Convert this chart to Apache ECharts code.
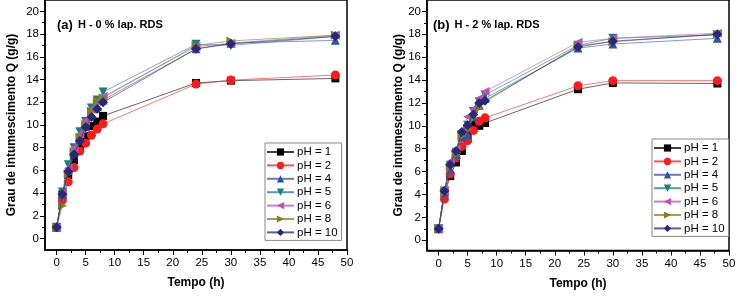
<!DOCTYPE html>
<html><head><meta charset="utf-8">
<script src="https://cdn.jsdelivr.net/npm/echarts@6/dist/echarts.min.js"></script>
<style>html,body{margin:0;padding:0;background:#fff}#c{width:744px;height:298px}</style>
</head><body><div id="c"></div>
<script>
const times = [0, 1, 2, 3, 4, 5, 6, 7, 8, 24, 30, 48];
const seriesNames = ['pH = 1', 'pH = 2', 'pH = 4', 'pH = 5', 'pH = 6', 'pH = 8', 'pH = 10'];
// Panel (a): H - 0 % lap. RDS
const a_pH1  = [1.0, 3.9, 5.6, 6.9, 8.1, 9.0, 9.9, 10.3, 10.8, 13.7, 13.9, 14.1];
const a_pH2  = [1.0, 3.4, 5.0, 6.25, 7.7, 8.4, 9.1, 9.65, 10.1, 13.6, 13.95, 14.4];
const a_pH4  = [1.0, 3.9, 6.1, 7.6, 8.9, 9.9, 10.9, 11.6, 12.2, 16.7, 17.2, 17.45];
const a_pH5  = [1.0, 4.1, 6.5, 8.0, 9.4, 10.3, 11.5, 12.2, 12.9, 17.1, 17.0, 17.8];
const a_pH6  = [1.0, 4.0, 6.2, 8.0, 9.2, 10.4, 11.4, 12.1, 12.5, 16.9, 17.2, 17.9];
const a_pH8  = [1.0, 2.9, 5.7, 7.6, 8.9, 10.0, 11.2, 12.1, 12.4, 17.0, 17.4, 17.9];
const a_pH10 = [1.0, 3.9, 5.9, 7.4, 8.6, 9.8, 10.7, 11.4, 12.0, 16.7, 17.15, 17.8];
// Panel (b): H - 2 % lap. RDS
const b_pH1  = [1.0, 4.2, 5.6, 6.8, 7.8, 9.2, 10.1, 10.0, 10.25, 13.2, 13.75, 13.7];
const b_pH2  = [1.0, 3.6, 5.8, 7.2, 8.2, 8.7, 9.6, 10.4, 10.7, 13.5, 13.95, 13.95];
const b_pH4  = [1.0, 4.2, 6.2, 7.5, 9.0, 9.25, 10.8, 11.8, 12.4, 16.8, 17.15, 17.65];
const b_pH5  = [1.0, 4.3, 6.5, 7.7, 9.2, 10.05, 11.25, 12.1, 12.7, 17.05, 17.65, 17.95];
const b_pH6  = [1.0, 4.3, 6.9, 7.95, 9.6, 10.8, 11.5, 12.4, 13.0, 17.3, 17.65, 18.1];
const b_pH8  = [1.0, 4.2, 6.4, 7.5, 9.1, 9.7, 10.7, 11.55, 12.1, 17.0, 17.35, 18.0];
const b_pH10 = [1.0, 4.3, 6.6, 7.8, 9.45, 10.05, 11.0, 12.0, 12.2, 16.9, 17.4, 18.0];
const xMajorTicks = [0, 5, 10, 15, 20, 25, 30, 35, 40, 45, 50];
const xMinorTicks = [2.5, 7.5, 12.5, 17.5, 22.5, 27.5, 32.5, 37.5, 42.5, 47.5];
const yMajorTicks = [0, 2, 4, 6, 8, 10, 12, 14, 16, 18, 20];
const yMinorTicks = [1, 3, 5, 7, 9, 11, 13, 15, 17, 19];
const panelTitles = ['H - 0 % lap. RDS', 'H - 2 % lap. RDS'];
const panelTags = ['(a)', '(b)'];

const colors = ['#000000', '#ff1a1a', '#3050b0', '#168080', '#c050b8', '#808020', '#262880'];
const symbols = ['rect', 'circle', 'triangle', 'path://M0,0 L10,0 L5,9 Z', 'path://M0,5 L9,0 L9,10 Z', 'path://M9,5 L0,0 L0,10 Z', 'diamond'];
const symSizes = [8, 9, 9, 9, 9, 9, 10];
const panelA = [a_pH1, a_pH2, a_pH4, a_pH5, a_pH6, a_pH8, a_pH10];
const panelB = [b_pH1, b_pH2, b_pH4, b_pH5, b_pH6, b_pH8, b_pH10];

const font = 'Liberation Sans, Arial, sans-serif';
const grids = [
  {left: 45, top: -2, width: 302, height: 252, show: true, borderColor: '#000', borderWidth: 1.5},
  {left: 427, top: -4, width: 302, height: 254.5, show: true, borderColor: '#000', borderWidth: 1.5}
];
const yRanges = [[-1, 21], [-0.9, 21]];
const xAxes = [], yAxes = [], series = [];
[0, 1].forEach(g => {
  xAxes.push({type: 'value', gridIndex: g, min: -2, max: 50, position: 'bottom',
    name: 'Tempo (h)', nameLocation: 'middle', nameGap: 27,
    nameTextStyle: {fontFamily: font, fontWeight: 'bold', fontSize: 12, color: '#000'},
    axisLine: {show: true, onZero: false, lineStyle: {color: '#000', width: 1.5}},
    axisTick: {show: true, inside: false, length: 5, customValues: xMajorTicks, lineStyle: {color: '#000', width: 1}},
    axisLabel: {customValues: xMajorTicks, fontFamily: font, fontSize: 11.5, color: '#000', margin: 7},
    splitLine: {show: false}});
  xAxes.push({type: 'value', gridIndex: g, min: -2, max: 50, position: 'bottom',
    axisLine: {show: false, onZero: false},
    axisTick: {show: true, length: 3, customValues: xMinorTicks, lineStyle: {color: '#000', width: 1}},
    axisLabel: {show: false}, splitLine: {show: false}});
  yAxes.push({type: 'value', gridIndex: g, min: yRanges[g][0], max: yRanges[g][1], position: 'left',
    name: 'Grau de intumescimento Q (g/g)', nameLocation: 'middle', nameGap: g === 0 ? 27 : 21,
    nameTextStyle: {fontFamily: font, fontWeight: 'bold', fontSize: 12, color: '#000'},
    axisLine: {show: true, onZero: false, lineStyle: {color: '#000', width: 1.5}},
    axisTick: {show: true, length: 5, customValues: yMajorTicks, lineStyle: {color: '#000', width: 1}},
    axisLabel: {customValues: yMajorTicks, fontFamily: font, fontSize: 11.5, color: '#000', margin: 6},
    splitLine: {show: false}});
  yAxes.push({type: 'value', gridIndex: g, min: yRanges[g][0], max: yRanges[g][1], position: 'left',
    axisLine: {show: false, onZero: false},
    axisTick: {show: true, length: 3, customValues: yMinorTicks, lineStyle: {color: '#000', width: 1}},
    axisLabel: {show: false}, splitLine: {show: false}});
  const vals = g === 0 ? panelA : panelB;
  seriesNames.forEach((nm, i) => {
    series.push({type: 'line', name: nm, xAxisIndex: g * 2, yAxisIndex: g * 2,
      data: times.map((t, k) => [t, vals[i][k]]),
      symbol: symbols[i], symbolSize: symSizes[i], showAllSymbol: true,
      itemStyle: {color: colors[i]}, lineStyle: {color: colors[i], width: 0.8, opacity: 0.75},
      emphasis: {disabled: true}, animation: false, z: 2 + i});
  });
});
const legendBase = {orient: 'vertical', data: seriesNames, itemWidth: 27, itemHeight: 9, itemGap: 1.4,
  borderColor: '#888', borderWidth: 1, padding: [3, 4, 2, 1], backgroundColor: '#fff',
  textStyle: {fontFamily: font, fontSize: 11.5, lineHeight: 12, color: '#000', padding: [0, 0, 0, -2]}};
const option = {
  backgroundColor: '#fff',
  animation: false,
  grid: grids,
  xAxis: xAxes,
  yAxis: yAxes,
  series: series,
  legend: [
    Object.assign({}, legendBase, {left: 265, top: 143}),
    Object.assign({}, legendBase, {left: 652, top: 139})
  ],
  title: [0, 1].map(g => ({
    left: g === 0 ? 52 : 428, top: 11,
    text: '{t|' + panelTags[g] + '} {s|' + panelTitles[g] + '}',
    textStyle: {rich: {t: {fontFamily: font, fontWeight: 'bold', fontSize: 13, color: '#000'},
                       s: {fontFamily: font, fontWeight: 'bold', fontSize: 11, color: '#000'}}}
  }))
};
const chart = echarts.init(document.getElementById('c'), null, {renderer: 'canvas'});
chart.setOption(option);
</script></body></html>
